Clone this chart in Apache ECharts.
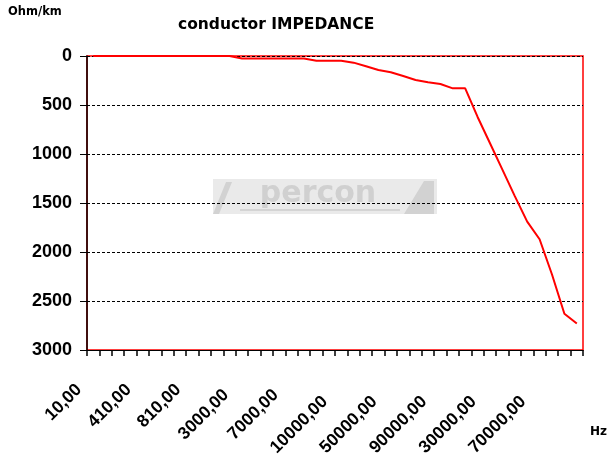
<!DOCTYPE html>
<html>
<head>
<meta charset="utf-8">
<script src="https://cdn.jsdelivr.net/npm/echarts@6/dist/echarts.min.js"></script>
<style>
  html, body { margin: 0; padding: 0; background: #fff; }
  #chart { width: 607px; height: 463px; }
</style>
</head>
<body>
<div id="chart"></div>
<script>
// Frequency categories (only every 4th label is printed on the chart; printed ones)
const categories = [
  '10,00','110,00','210,00','310,00','410,00','510,00','610,00','710,00','810,00','910,00',
  '1000,00','2000,00','3000,00','4000,00','5000,00','6000,00','7000,00','8000,00','9000,00','9500,00',
  '10000,00','20000,00','30000,00','40000,00','50000,00','60000,00','70000,00','80000,00','90000,00',
  '100000,00','150000,00','200000,00','30000,00','400000,00','500000,00','600000,00','70000,00',
  '800000,00','900000,00','1000000,00'
];
// Impedance, Ohm/km
const impedance = [
  0,0,0,0,0,0,0,0,0,0,0,0,
  25,25,25,25,25,25,
  48,48,48,68,105,143,166,204,245,268,286,330,330,
  622,890,1160,1430,1690,1870,2230,2630,2730
];
const yTicks = { min: 0, max: 3000, step: 500 };
const titleText = 'conductor IMPEDANCE';
const yUnit = 'Ohm/km';
const xUnit = 'Hz';

const chart = echarts.init(document.getElementById('chart'), null, { renderer: 'canvas' });
const ARIAL = '"Liberation Sans", Arial, sans-serif';
const labelFont = { fontFamily: ARIAL, fontWeight: 'bold', fontSize: 17.5, color: '#000' };

chart.setOption({
  animation: false,
  backgroundColor: '#fff',
  title: {
    text: titleText,
    left: 178, top: 17, padding: 0,
    textStyle: { fontFamily: 'DejaVu Sans', fontWeight: 'bold', fontSize: 15.5, color: '#000' }
  },
  grid: {
    left: 87, right: 24, top: 56, bottom: 113,
    show: true, borderColor: '#ff0000', borderWidth: 1.5, backgroundColor: 'transparent'
  },
  graphic: [
    { type: 'rect', z: -10, silent: true, shape: { x: 213, y: 179, width: 224, height: 35 },
      style: { fill: '#eaeaea' } },
    { type: 'polygon', z: -9, silent: true, shape: { points: [[213,214],[226,182],[232,182],[219,214]] },
      style: { fill: '#d2d2d2' } },
    { type: 'polygon', z: -9, silent: true, shape: { points: [[404,214],[424,181],[434,181],[434,214]] },
      style: { fill: '#d2d2d2' } },
    { type: 'rect', z: -9, silent: true, shape: { x: 240, y: 209, width: 160, height: 2 },
      style: { fill: '#d4d4d4' } },
    { type: 'text', z: -8, silent: true, x: 318, y: 194,
      style: { text: 'percon', fontFamily: 'DejaVu Sans', fontWeight: 'bold', fontSize: 30,
        fill: '#d0d0d0', align: 'center', verticalAlign: 'middle' } },
    { type: 'text', x: 8, y: 12,
      style: { text: yUnit, fontFamily: 'DejaVu Sans', fontWeight: 'bold', fontSize: 11.5,
        fill: '#000', align: 'left', verticalAlign: 'middle' } },
    { type: 'text', x: 590, y: 432,
      style: { text: xUnit, fontFamily: 'DejaVu Sans', fontWeight: 'bold', fontSize: 12,
        fill: '#000', align: 'left', verticalAlign: 'middle' } }
  ],
  xAxis: {
    type: 'category',
    data: categories,
    boundaryGap: true,
    axisLine: { onZero: false, lineStyle: { color: '#000', width: 1 } },
    axisTick: { show: true, interval: 0, length: 6, lineStyle: { color: '#000', width: 1.5 } },
    splitLine: { show: false },
    axisLabel: {
      interval: 3,
      rotate: 45,
      margin: 20,
      ...labelFont,
      formatter: function (v) {
        const n = v.length;
        const k = n <= 6 ? 'a' : (n === 7 ? 'b' : 'c');
        return '{' + k + '|' + v + '}';
      },
      rich: {
        a: { ...labelFont, padding: [4, 22, 0, 0] },
        b: { ...labelFont, padding: [9, 27, 0, 0] },
        c: { ...labelFont, padding: [18, 32, 0, 0] }
      }
    }
  },
  yAxis: {
    type: 'value',
    inverse: true,
    min: yTicks.min, max: yTicks.max, interval: yTicks.step,
    axisLine: { show: true, lineStyle: { color: '#000', width: 1.5 } },
    axisTick: { show: true, length: 7, lineStyle: { color: '#000', width: 1 } },
    splitLine: { show: true, lineStyle: { color: '#000', width: 1, type: [3, 2] } },
    axisLabel: {
      margin: 15, fontFamily: ARIAL, fontWeight: 'bold', fontSize: 18, color: '#000',
      formatter: function (v) { return String(v); }
    }
  },
  series: [{
    type: 'line',
    data: impedance,
    showSymbol: false,
    symbol: 'none',
    lineStyle: { color: '#ff0000', width: 2 },
    itemStyle: { color: '#ff0000' },
    z: 3
  }]
});
</script>
</body>
</html>
